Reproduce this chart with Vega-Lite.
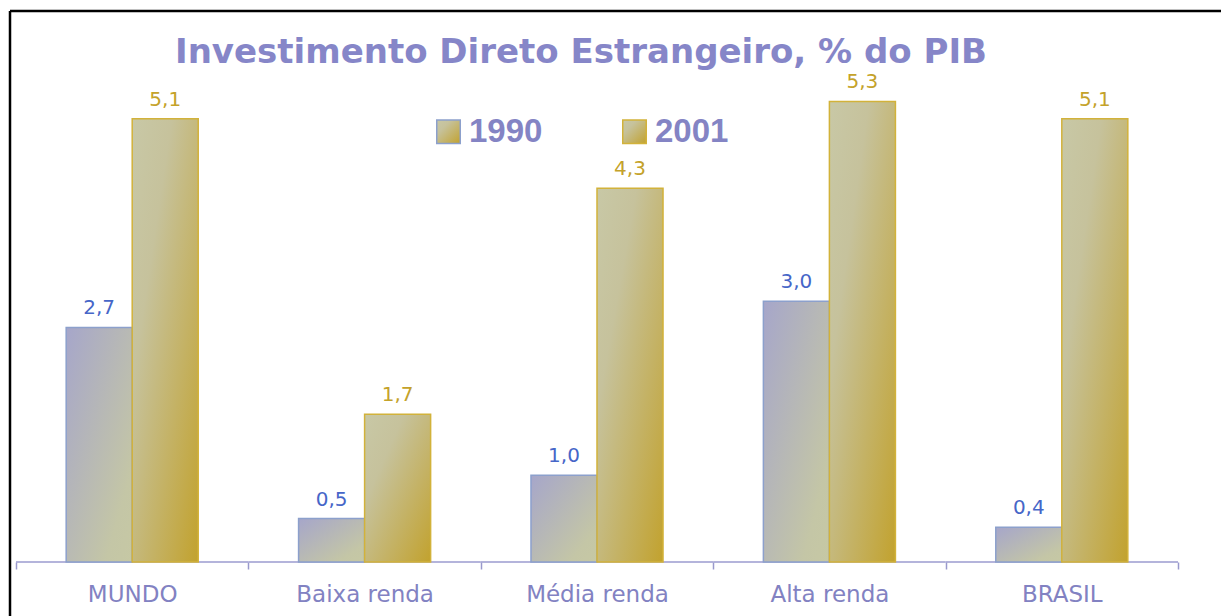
{
  "$schema": "https://vega.github.io/schema/vega-lite/v6.json",
  "autosize": "none",
  "width": 1212,
  "height": 605,
  "padding": {"left": 10, "top": 11, "right": 0, "bottom": 0},
  "background": "#FFFFFF",
  "config": {
    "locale": {"number": {"decimal": ",", "thousands": ".", "grouping": [3], "currency": ["R$", ""]}},
    "view": {"stroke": "#000000", "strokeWidth": 2.5, "strokeDash": [1211, 1818, 605, 0]},
    "font": "DejaVu Sans"
  },
  "title": {
    "text": "Investimento Direto Estrangeiro, % do PIB",
    "font": "DejaVu Sans",
    "fontSize": 34,
    "fontWeight": "bold",
    "color": "#8686C8",
    "anchor": "middle",
    "frame": "group",
    "baseline": "alphabetic",
    "offset": 0,
    "dx": -35,
    "dy": 86
  },
  "data": {
    "values": [
      {"cat": "MUNDO", "year": "1990", "value": 2.7},
      {"cat": "MUNDO", "year": "2001", "value": 5.1},
      {"cat": "Baixa renda", "year": "1990", "value": 0.5},
      {"cat": "Baixa renda", "year": "2001", "value": 1.7},
      {"cat": "Média renda", "year": "1990", "value": 1.0},
      {"cat": "Média renda", "year": "2001", "value": 4.3},
      {"cat": "Alta renda", "year": "1990", "value": 3.0},
      {"cat": "Alta renda", "year": "2001", "value": 5.3},
      {"cat": "BRASIL", "year": "1990", "value": 0.4},
      {"cat": "BRASIL", "year": "2001", "value": 5.1}
    ]
  },
  "encoding": {
    "x": {
      "field": "cat",
      "type": "nominal",
      "scale": {
        "domain": ["MUNDO", "Baixa renda", "Média renda", "Alta renda", "BRASIL"],
        "paddingInner": 0,
        "paddingOuter": 0.10757,
        "align": 0.12
      },
      "axis": {
        "title": null,
        "orient": "bottom",
        "offset": -54,
        "domain": false,
        "tickBand": "extent",
        "tickSize": 7,
        "tickColor": "#9999CC",
        "tickWidth": 1.5,
        "labelAngle": 0,
        "labelFont": "DejaVu Sans",
        "labelFontSize": 23,
        "labelColor": "#8282C2",
        "labelPadding": 14,
        "grid": false
      }
    }
  },
  "layer": [
    {
      "transform": [{"filter": "datum.year == '1990'"}],
      "mark": {"type": "bar", "fill": null, "stroke": "#9C9CD0", "strokeWidth": 1.5},
      "encoding": {
        "y": {"datum": 0, "type": "quantitative", "scale": {"domain": [-0.621, 6.341], "nice": false, "zero": false}, "axis": null},
        "y2": {"datum": 0}
      }
    },
    {
      "mark": {"type": "bar", "strokeWidth": 1.5},
      "encoding": {
        "xOffset": {"field": "year", "type": "nominal", "scale": {"paddingInner": 0, "paddingOuter": 0.76}},
        "y": {"field": "value", "type": "quantitative", "axis": null},
        "fill": {
          "condition": {
            "test": "datum.year == '1990'",
            "value": {"gradient": "linear", "x1": 0, "y1": 0, "x2": 1, "y2": 1,
              "stops": [{"offset": 0, "color": "#A6A6CA"}, {"offset": 0.8, "color": "#C4C6A6"}, {"offset": 1, "color": "#C6C8A4"}]}
          },
          "value": {"gradient": "linear", "x1": 0, "y1": 0, "x2": 1, "y2": 1,
            "stops": [{"offset": 0, "color": "#C8C8A6"}, {"offset": 0.3, "color": "#C6C29C"}, {"offset": 1, "color": "#C2A22E"}]}
        },
        "stroke": {
          "field": "year",
          "type": "nominal",
          "scale": {"domain": ["1990", "2001"], "range": ["#8CA0CC", "#D2B23A"]},
          "legend": {
            "title": null,
            "orient": "none",
            "legendX": 422,
            "legendY": 104,
            "direction": "horizontal",
            "symbolType": "square",
            "symbolSize": 552,
            "symbolStrokeWidth": 1.5,
            "labelFont": "Liberation Sans",
            "labelFontSize": 33,
            "labelFontWeight": "bold",
            "labelColor": "#8484C4",
            "labelOffset": 4,
            "columnPadding": 75,
            "padding": 0,
            "encode": {
              "symbols": {
                "update": {
                  "fill": {"signal": "datum.value == '1990' ? {gradient: 'linear', x1: 0, y1: 0, x2: 1, y2: 1, stops: [{offset: 0, color: '#A2A2CC'}, {offset: 1, color: '#C6C8A4'}]} : {gradient: 'linear', x1: 0, y1: 0, x2: 1, y2: 1, stops: [{offset: 0, color: '#C8C8A6'}, {offset: 1, color: '#C2A22E'}]}"},
                  "fillOpacity": {"value": 1},
                  "opacity": {"value": 1}
                }
              }
            }
          }
        }
      }
    },
    {
      "mark": {"type": "text", "baseline": "alphabetic", "dy": -13, "fontSize": 20, "font": "DejaVu Sans"},
      "encoding": {
        "xOffset": {"field": "year", "type": "nominal"},
        "y": {"field": "value", "type": "quantitative"},
        "text": {"field": "value", "type": "quantitative", "format": ".1f"},
        "color": {"condition": {"test": "datum.year == '1990'", "value": "#4666C8"}, "value": "#C4A22A"}
      }
    }
  ]
}
